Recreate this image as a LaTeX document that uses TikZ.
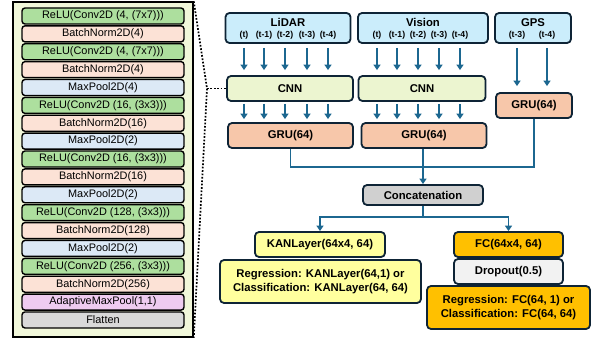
\documentclass[tikz,border=0pt]{standalone}
\usepackage{fontspec}
\setmainfont{Liberation Sans}
\usetikzlibrary{arrows.meta}
\definecolor{panelbg}{HTML}{F1F7DA}
\definecolor{lgreen}{HTML}{ADDF9E}
\definecolor{lsalmon}{HTML}{FCE2D6}
\definecolor{lblue}{HTML}{DCE9F6}
\definecolor{lpink}{HTML}{EECBF0}
\definecolor{lgray}{HTML}{D9D9D9}
\definecolor{inbg}{HTML}{CBEDFB}
\definecolor{cnnbg}{HTML}{ECF5D0}
\definecolor{grubg}{HTML}{F7C7AA}
\definecolor{catbg}{HTML}{D0D0D0}
\definecolor{kanbg}{HTML}{FFFF9E}
\definecolor{fcbg}{HTML}{FFC000}
\definecolor{dropbg}{HTML}{F2F2F2}
\definecolor{bord}{HTML}{0E2436}
\definecolor{arrc}{HTML}{1C6790}
\begin{document}
\begin{tikzpicture}[x=1pt,y=-1pt,
  layer/.style={draw=black, line width=1.4pt, rounded corners=3pt, minimum width=162pt, minimum height=16pt, inner sep=0pt, font=\fontsize{10.9}{12}\selectfont},
  blk/.style={draw=bord, line width=1.8pt, rounded corners=4pt, inner sep=0pt, align=center, font=\bfseries\fontsize{11.3}{14.5}\selectfont},
  ttl/.style={inner sep=0pt, font=\bfseries\fontsize{11.3}{12}\selectfont},
  tlab/.style={inner sep=0pt, font=\bfseries\fontsize{8.7}{9}\selectfont},
  arr/.style={draw=arrc, line width=1.8pt, -{Triangle[length=5.5pt,width=7pt]}},
  conn/.style={draw=arrc, line width=1.8pt},
  dots/.style={draw=black, line width=1.7pt, dash pattern=on 1.7pt off 1.7pt}
]
\useasboundingbox (0,0) rectangle (594,339);

% left panel
\node[draw=black, line width=1.5pt, fill=panelbg, minimum width=180pt, minimum height=335pt, inner sep=0pt] (panel) at (103,169.5) {};
\foreach \t/\c [count=\i] in {
  {ReLU(Conv2D (4, (7x7)))}/lgreen,
  {BatchNorm2D(4)}/lsalmon,
  {ReLU(Conv2D (4, (7x7)))}/lgreen,
  {BatchNorm2D(4)}/lsalmon,
  {MaxPool2D(4)}/lblue,
  {ReLU(Conv2D (16, (3x3)))}/lgreen,
  {BatchNorm2D(16)}/lsalmon,
  {MaxPool2D(2)}/lblue,
  {ReLU(Conv2D (16, (3x3)))}/lgreen,
  {BatchNorm2D(16)}/lsalmon,
  {MaxPool2D(2)}/lblue,
  {ReLU(Conv2D (128, (3x3)))}/lgreen,
  {BatchNorm2D(128)}/lsalmon,
  {MaxPool2D(2)}/lblue,
  {ReLU(Conv2D (256, (3x3)))}/lgreen,
  {BatchNorm2D(256)}/lsalmon,
  {AdaptiveMaxPool(1,1)}/lpink,
  {Flatten}/lgray}
{
  \node[layer, fill=\c] (l\i) at (103,{16+(\i-1)*17.88}) {\t};
}

% input boxes
\node[blk, fill=inbg, minimum width=125pt, minimum height=30pt] (lidar) at (288,28) {};
\node[blk, fill=inbg, minimum width=130pt, minimum height=30pt] (vision) at (423,28) {};
\node[blk, fill=inbg, minimum width=76pt, minimum height=30pt] (gps) at (533,28) {};
\node[ttl] (lidart) at (288,22.5) {LiDAR};
\node[ttl] (visiont) at (423,22.5) {Vision};
\node[ttl] (gpst) at (533,22.5) {GPS};

\foreach \n/\x [count=\k] in {{(t)}/244,{(t-1)}/264,{(t-2)}/285,{(t-3)}/307,{(t-4)}/328}
  \node[tlab] (la\k) at (\x,35) {\n};
\foreach \n/\x [count=\k] in {{(t)}/377,{(t-1)}/397,{(t-2)}/418,{(t-3)}/439,{(t-4)}/460}
  \node[tlab] (vi\k) at (\x,35) {\n};
\node[tlab] (gp1) at (517,35) {(t-3)};
\node[tlab] (gp2) at (547,35) {(t-4)};

% CNN and GRU
\node[blk, fill=cnnbg, minimum width=126pt, minimum height=25pt] (cnn1) at (290,88.5) {CNN};
\node[blk, fill=cnnbg, minimum width=127pt, minimum height=25pt] (cnn2) at (422,88.5) {CNN};
\node[blk, fill=grubg, minimum width=125pt, minimum height=25pt] (gru1) at (290.5,135.5) {GRU(64)};
\node[blk, fill=grubg, minimum width=125pt, minimum height=25pt] (gru2) at (424,135.5) {GRU(64)};
\node[blk, fill=grubg, minimum width=76pt, minimum height=25pt] (gru3) at (534,105.5) {GRU(64)};

\foreach \k in {1,...,5} {
  \draw[arr, shorten <=4pt, shorten >=5pt] (lidar.south -| la\k) -- (cnn1.north -| la\k);
  \draw[arr, shorten <=2pt, shorten >=3pt] (cnn1.south -| la\k) -- (gru1.north -| la\k);
  \draw[arr, shorten <=4pt, shorten >=5pt] (vision.south -| vi\k) -- (cnn2.north -| vi\k);
  \draw[arr, shorten <=2pt, shorten >=3pt] (cnn2.south -| vi\k) -- (gru2.north -| vi\k);
}
\draw[arr, shorten <=4pt, shorten >=6pt] (gps.south -| gp1) -- (gru3.north -| gp1);
\draw[arr, shorten <=4pt, shorten >=6pt] (gps.south -| gp2) -- (gru3.north -| gp2);

% concatenation
\node[blk, fill=catbg, minimum width=120pt, minimum height=20pt] (cat) at (423,195) {Concatenation};
\coordinate (jn) at (423,167);
\draw[conn] (gru1.south) |- (jn) -| (gru3.south);
\draw[arr] (gru2.south -| cat.north) -- (cat.north);

% heads
\node[blk, fill=kanbg, minimum width=130pt, minimum height=25pt] (kan) at (320,244.5) {KANLayer(64x4, 64)};
\node[blk, fill=kanbg, minimum width=201pt, minimum height=43pt] (kanout) at (320.5,281.5) {Regression: KANLayer(64,1) or\\Classification: KANLayer(64, 64)};
\node[blk, fill=fcbg, minimum width=109pt, minimum height=25pt] (fc) at (508.5,244.5) {FC(64x4, 64)};
\node[blk, fill=dropbg, minimum width=109pt, minimum height=25pt] (drop) at (508.5,271.5) {Dropout(0.5)};
\node[blk, fill=fcbg, minimum width=163pt, minimum height=43pt] (fcout) at (508.5,307.5) {Regression: FC(64, 1) or\\Classification: FC(64, 64)};

\coordinate (sp) at (423,217);
\draw[conn] (cat.south) -- (sp);
\draw[arr] (sp) -| (kan.north);
\draw[arr] (sp) -| (fc.north);

% dotted zoom lines
\coordinate (dp) at (207,88.5);
\draw[dots] (panel.north east) -- (dp) -- (panel.south east);
\draw[dots] (dp) -- (cnn1.west);
\end{tikzpicture}
\end{document}
